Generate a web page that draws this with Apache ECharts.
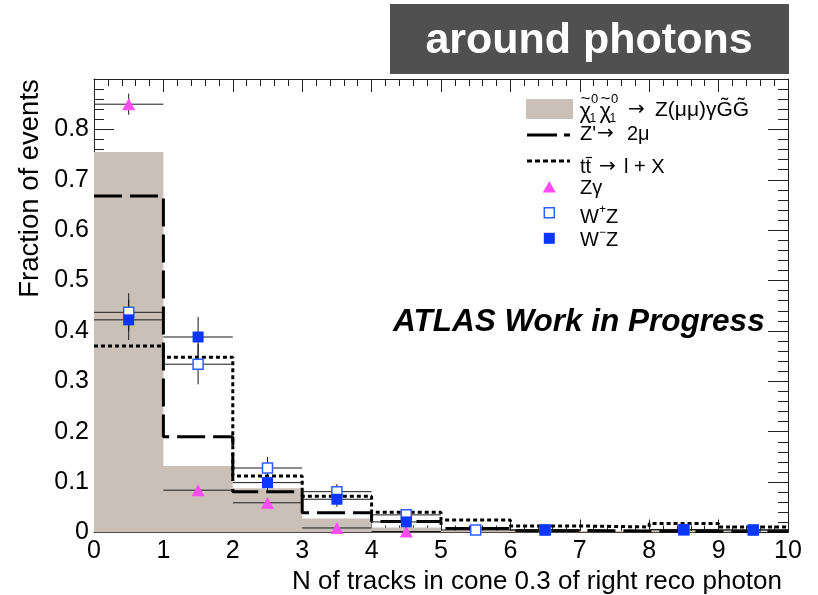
<!DOCTYPE html>
<html>
<head>
<meta charset="utf-8">
<script src="https://cdn.jsdelivr.net/npm/echarts@6/dist/echarts.min.js"></script>
<style>
  html, body { margin: 0; padding: 0; background: #fff; }
  #chart { width: 818px; height: 595px; }
</style>
</head>
<body>
<div id="chart"></div>
<script>
// Bin edges of the track-multiplicity histograms (N of tracks in cone 0.3)
const binEdges = [0, 1, 2, 3, 4, 5, 6, 7, 8, 9, 10];

// Histogram contents per bin (fraction of events)
const signalFrac = [0.755, 0.132, 0.088, 0.028, 0.010, 0.004, 0.003, 0.003, 0.003, 0.003];
const zprimeFrac = [0.668, 0.190, 0.081, 0.039, 0.022, 0.008, 0.004, 0.003, 0.002, 0.003];
const ttbarFrac  = [0.370, 0.348, 0.112, 0.072, 0.040, 0.025, 0.013, 0.011, 0.018, 0.011];

// Z gamma points (bin centres, values, vertical errors)
const zgX   = [0.5, 1.5, 2.5, 3.5, 4.5];
const zgY   = [0.850, 0.084, 0.059, 0.009, 0.002];
const zgErr = [0.021, 0.005, 0.005, 0.002, 0.001];

// W+Z points
const wpX   = [0.5, 1.5, 2.5, 3.5, 4.5, 5.5, 6.5, 8.5, 9.5];
const wpY   = [0.437, 0.334, 0.128, 0.081, 0.035, 0.005, 0.005, 0.005, 0.005];
const wpErr = [0.038, 0.040, 0.022, 0.015, 0.008, 0.003, 0.003, 0.003, 0.003];

// W-Z points
const wmX   = [0.5, 1.5, 2.5, 3.5, 4.5, 6.5, 8.5, 9.5];
const wmY   = [0.422, 0.388, 0.099, 0.066, 0.021, 0.005, 0.006, 0.005];
const wmErr = [0.040, 0.040, 0.020, 0.015, 0.008, 0.003, 0.003, 0.003];

// Axis tick labels
const xTickLabels = ['0', '1', '2', '3', '4', '5', '6', '7', '8', '9', '10'];
const yTickLabels = ['0', '0.1', '0.2', '0.3', '0.4', '0.5', '0.6', '0.7', '0.8'];

const FONT = "'Liberation Sans', Arial, Helvetica, sans-serif";
const ARROW_FONT = "'DejaVu Sans', sans-serif";
const C_SIGNAL = '#cbc0b7';
const C_ZG = '#ff4cf5';
const C_WP = '#2f5dff';
const C_WM = '#0a36ff';
const LEG = 20; // legend font size

// Step outline points: value held across each bin, closed at the last edge
function stepData(vals) {
  const pts = vals.map((v, i) => [binEdges[i], v]);
  pts.push([binEdges[binEdges.length - 1], vals[vals.length - 1]]);
  return pts;
}
function pointData(xs, ys) { return xs.map((x, i) => [x, ys[i]]); }
function errData(xs, ys, es) {
  return xs.map((x, i) => [x, ys[i], (binEdges[1] - binEdges[0]) / 2, es[i]]);
}

function errorBars(name, data) {
  return {
    name: name,
    type: 'custom',
    xAxisIndex: 0, yAxisIndex: 0,
    z: 4,
    clip: true,
    data: data,
    renderItem: function (params, api) {
      const x = api.value(0), y = api.value(1), ex = api.value(2), ey = api.value(3);
      const l = api.coord([x - ex, y]);
      const r = api.coord([x + ex, y]);
      const t = api.coord([x, y + ey]);
      const b = api.coord([x, y - ey]);
      const st = { stroke: '#1a1a1a', lineWidth: 1 };
      return {
        type: 'group',
        children: [
          { type: 'line', shape: { x1: l[0], y1: l[1], x2: r[0], y2: r[1] }, style: st },
          { type: 'line', shape: { x1: t[0], y1: t[1], x2: b[0], y2: b[1] }, style: st }
        ]
      };
    }
  };
}

// small helper for legend text pieces
function txt(x, y, s, size, font) {
  return { type: 'text', x: x, y: y,
    style: { text: s, fill: '#000', fontSize: size || LEG, fontFamily: font || FONT, verticalAlign: 'middle' } };
}

const axisCommon = {
  axisLine: { show: true, onZero: false, lineStyle: { color: '#222', width: 1 } },
  splitLine: { show: false }
};

const xAxisBase = Object.assign({}, axisCommon, {
  type: 'value', min: 0, max: 10, interval: 1,
  axisTick: { show: true, inside: true, length: 13, lineStyle: { color: '#222' } },
  minorTick: { show: true, splitNumber: 5, length: 7, lineStyle: { color: '#222' } }
});
const yAxisBase = Object.assign({}, axisCommon, {
  type: 'value', min: 0, max: 0.9, interval: 0.1,
  axisTick: { show: true, inside: true, length: 20, lineStyle: { color: '#222' } },
  minorTick: { show: true, splitNumber: 5, length: 10, lineStyle: { color: '#222' } }
});

const chart = echarts.init(document.getElementById('chart'), null, { renderer: 'canvas' });

const option = {
  animation: false,
  backgroundColor: '#fff',
  grid: { left: 94, top: 79, width: 694, height: 453.5, containLabel: false },
  xAxis: [
    Object.assign({}, xAxisBase, {
      position: 'bottom',
      axisLabel: {
        show: true, margin: 6, color: '#000', fontSize: 25, fontFamily: FONT,
        formatter: function (v) { return xTickLabels[Math.round(v)] || ''; }
      }
    }),
    Object.assign({}, xAxisBase, { position: 'top', axisLabel: { show: false } })
  ],
  yAxis: [
    Object.assign({}, yAxisBase, {
      position: 'left',
      axisLabel: {
        show: true, margin: 5, color: '#000', fontSize: 25, fontFamily: FONT,
        padding: [4, 0, 0, 0],
        formatter: function (v) { return yTickLabels[Math.round(v * 10)] || ''; }
      }
    }),
    Object.assign({}, yAxisBase, { position: 'right', axisLabel: { show: false } })
  ],
  series: [
    {
      name: 'signal', type: 'line', step: 'end', data: stepData(signalFrac),
      xAxisIndex: 0, yAxisIndex: 0, z: 1,
      symbol: 'none', lineStyle: { width: 0, color: C_SIGNAL },
      areaStyle: { color: C_SIGNAL, opacity: 1 }
    },
    {
      name: 'zprime', type: 'line', step: 'end', data: stepData(zprimeFrac),
      xAxisIndex: 0, yAxisIndex: 0, z: 2,
      symbol: 'none', lineStyle: { width: 3, color: '#000', type: [28, 8] }
    },
    {
      name: 'ttbar', type: 'line', step: 'end', data: stepData(ttbarFrac),
      xAxisIndex: 0, yAxisIndex: 0, z: 3,
      symbol: 'none', lineStyle: { width: 3, color: '#000', type: [4, 3] }
    },
    errorBars('zg-err', errData(zgX, zgY, zgErr)),
    errorBars('wp-err', errData(wpX, wpY, wpErr)),
    errorBars('wm-err', errData(wmX, wmY, wmErr)),
    {
      name: 'Zgamma', type: 'scatter', data: pointData(zgX, zgY), z: 6,
      xAxisIndex: 0, yAxisIndex: 0,
      symbol: 'triangle', symbolSize: [13, 12],
      itemStyle: { color: C_ZG, opacity: 1 }
    },
    {
      name: 'WpZ', type: 'scatter', data: pointData(wpX, wpY), z: 6,
      xAxisIndex: 0, yAxisIndex: 0,
      symbol: 'rect', symbolSize: 10,
      itemStyle: { color: '#fff', borderColor: C_WP, borderWidth: 1.5, opacity: 1 }
    },
    {
      name: 'WmZ', type: 'scatter', data: pointData(wmX, wmY), z: 7,
      xAxisIndex: 0, yAxisIndex: 0,
      symbol: 'rect', symbolSize: 11,
      itemStyle: { color: C_WM, opacity: 1 }
    }
  ],
  graphic: [
    // header box
    { type: 'rect', z: 10, shape: { x: 390, y: 4, width: 399, height: 70 }, style: { fill: '#505050' } },
    { type: 'text', z: 11, x: 589, y: 41,
      style: { text: 'around photons', fill: '#fff', fontSize: 43, fontWeight: 'bold', fontFamily: FONT, align: 'center', verticalAlign: 'middle' } },
    // axis titles
    { type: 'text', z: 11, x: 782, y: 582,
      style: { text: 'N of tracks in cone 0.3 of right reco photon', fill: '#000', fontSize: 26, fontFamily: FONT, align: 'right', verticalAlign: 'middle' } },
    { type: 'text', z: 11, x: 30, y: 188.5, rotation: Math.PI / 2,
      style: { text: 'Fraction of events', fill: '#000', fontSize: 27.5, fontFamily: FONT, align: 'center', verticalAlign: 'middle' } },
    // label inside the frame
    { type: 'text', z: 11, x: 393, y: 322,
      style: { text: 'ATLAS Work in Progress', fill: '#000', fontSize: 31.5, fontWeight: 'bold', fontStyle: 'italic', fontFamily: FONT, align: 'left', verticalAlign: 'middle' } },
    // legend
    { type: 'group', z: 12, children: [
      // signal: neutralino pair -> Z(mumu) gamma + gravitinos
      { type: 'rect', shape: { x: 526, y: 99, width: 47, height: 20, r: 1 }, style: { fill: C_SIGNAL } },
      txt(579.5, 112, 'χ', 22),
      txt(580.5, 99.5, '~', 17),
      txt(591, 99.5, '0', 13),
      txt(589.5, 118.5, '1', 12),
      txt(599.5, 112, 'χ', 22),
      txt(600.5, 99.5, '~', 17),
      txt(611, 99.5, '0', 13),
      txt(609.5, 118.5, '1', 12),
      txt(628, 110, '→', LEG, ARROW_FONT),
      txt(655, 110, 'Z(μμ)γG̃G̃', 21),

      { type: 'line', shape: { x1: 527, y1: 135, x2: 570, y2: 135 }, style: { stroke: '#000', lineWidth: 3, lineDash: [30, 7] } },
      txt(580, 134, "Z'"),
      txt(597, 134, '→', LEG, ARROW_FONT),
      txt(627, 134, '2μ'),

      { type: 'line', shape: { x1: 527, y1: 161, x2: 570, y2: 161 }, style: { stroke: '#000', lineWidth: 3, lineDash: [5, 3] } },
      txt(580, 167, 'tt'),
      { type: 'line', shape: { x1: 586, y1: 157.5, x2: 592, y2: 157.5 }, style: { stroke: '#000', lineWidth: 1.2 } },
      txt(599, 167, '→', LEG, ARROW_FONT),
      txt(624, 167, 'l + X'),

      { type: 'polygon', shape: { points: [[549.3, 181], [555.8, 192.5], [542.8, 192.5]] }, style: { fill: C_ZG } },
      txt(580, 188, 'Zγ'),

      { type: 'rect', shape: { x: 544.3, y: 207.7, width: 10, height: 10 }, style: { fill: '#fff', stroke: C_WP, lineWidth: 1.5 } },
      txt(580, 217.5, 'W'),
      txt(599, 210, '+', 12),
      txt(606, 217.5, 'Z'),

      { type: 'rect', shape: { x: 543.8, y: 232.8, width: 11, height: 11 }, style: { fill: C_WM } },
      txt(580, 240, 'W'),
      txt(599, 233, '−', 12),
      txt(606, 240, 'Z')
    ] }
  ]
};

chart.setOption(option);
</script>
</body>
</html>
